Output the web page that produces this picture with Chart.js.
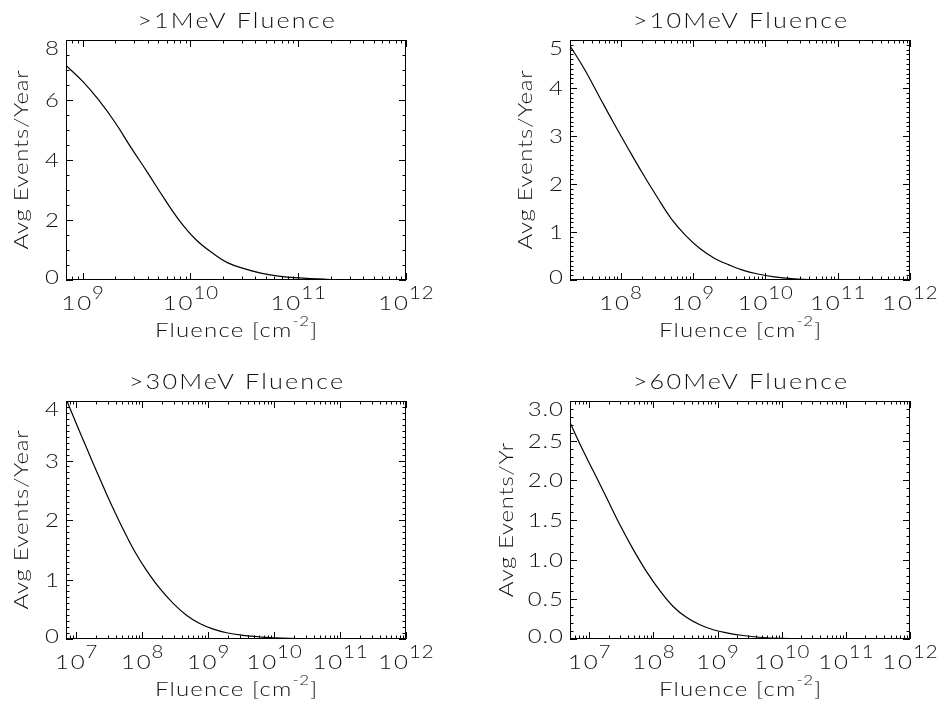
<!DOCTYPE html>
<html>
<head>
<meta charset="utf-8">
<script src="https://cdn.jsdelivr.net/npm/chart.js@4"></script>
<style>
html, body { margin: 0; padding: 0; background: #fff; }
#wrap { position: relative; width: 938px; height: 704px; }
canvas { position: absolute; }
</style>
</head>
<body>
<div id="wrap">
  <canvas id="p1" width="469" height="352" style="left:0;top:0"></canvas>
  <canvas id="p2" width="469" height="352" style="left:469px;top:0"></canvas>
  <canvas id="p3" width="469" height="352" style="left:0;top:352px"></canvas>
  <canvas id="p4" width="469" height="352" style="left:469px;top:352px"></canvas>
</div>
<script>
// values (fluence in cm^-2, avg events per year)
const fluenceGt1 = [7.0e8, 1.0e9, 1.4e9, 2.0e9, 2.8e9, 4.0e9, 5.6e9, 7.9e9, 1.12e10, 1.6e10, 2.2e10, 3.2e10, 4.5e10, 6.3e10, 1.0e11, 1.8e11, 3.2e11, 1.0e12];
const eventsGt1  = [7.15, 6.62, 6.01, 5.25, 4.42, 3.58, 2.76, 1.98, 1.35, 0.90, 0.58, 0.37, 0.23, 0.14, 0.07, 0.025, 0.005, 0.0];

const fluenceGt10 = [2.0e7, 3.2e7, 5.0e7, 7.9e7, 1.26e8, 2.0e8, 3.2e8, 5.0e8, 7.9e8, 1.26e9, 2.0e9, 3.2e9, 5.0e9, 7.9e9, 1.26e10, 2.5e10, 5.0e10, 1.0e11, 1.0e12];
const eventsGt10  = [4.88, 4.38, 3.84, 3.29, 2.75, 2.23, 1.73, 1.28, 0.93, 0.65, 0.45, 0.31, 0.20, 0.125, 0.07, 0.025, 0.005, 0.0, 0.0];

const fluenceGt30 = [7.0e6, 1.02e7, 1.45e7, 2.05e7, 2.9e7, 4.1e7, 5.8e7, 8.2e7, 1.17e8, 1.85e8, 2.95e8, 4.7e8, 7.45e8, 1.17e9, 1.9e9, 3.35e9, 5.85e9, 1.0e10, 3.2e10, 1.0e11, 1.0e12];
const eventsGt30  = [4.04, 3.60, 3.20, 2.81, 2.43, 2.07, 1.73, 1.42, 1.15, 0.85, 0.60, 0.40, 0.26, 0.17, 0.105, 0.062, 0.038, 0.02, 0.005, 0.0, 0.0];

const fluenceGt60 = [5.0e6, 7.1e6, 1.15e7, 1.86e7, 3.0e7, 4.83e7, 7.8e7, 1.26e8, 2.03e8, 3.3e8, 5.3e8, 8.6e8, 1.38e9, 2.5e9, 4.5e9, 1.0e10, 3.2e10, 1.0e12];
const eventsGt60  = [2.73, 2.46, 2.12, 1.78, 1.44, 1.13, 0.85, 0.61, 0.41, 0.27, 0.18, 0.117, 0.078, 0.044, 0.022, 0.008, 0.0, 0.0];

const titles  = ['>1MeV Fluence', '>10MeV Fluence', '>30MeV Fluence', '>60MeV Fluence'];
const yTitles = ['Avg Events/Year', 'Avg Events/Year', 'Avg Events/Year', 'Avg Events/Yr'];
const xTitle  = 'Fluence [cm';
const xTitleExp = '-2';

// axis ranges and tick steps
const xMins    = [7e8, 2e7, 7e6, 5e6];
const xMax     = 1e12;
const yMaxes   = [8, 5, 4, 3];
const yMajor   = [2, 1, 1, 0.5];
const yMinor   = [0.5, 0.1, 0.1, 0.1];
const yDigits  = [0, 0, 0, 1];

const INK = '#000';
const TEXT = '#111';
const FONT = 'Lato, "DejaVu Sans", sans-serif';
const STRETCH = 1.2;   // IDL vector font is wider than Lato

function setFont(ctx, size, spacing) {
  ctx.font = `300 ${size}px ${FONT}`;
  ctx.letterSpacing = spacing + 'px';
}
function runWidth(ctx, r) {
  setFont(ctx, r.size, r.spacing || 0);
  return (ctx.measureText(r.t).width - (r.spacing || 0)) * STRETCH;
}
// draw a list of text runs (for superscripts) on a common baseline
function drawRuns(ctx, runs, x, baseline, align) {
  const gap = 1;
  const ws = runs.map(r => runWidth(ctx, r));
  const total = ws.reduce((a, b) => a + b, 0) + gap * (runs.length - 1);
  let cx = align === 'center' ? x - total / 2 : align === 'right' ? x - total : x;
  ctx.textAlign = 'left';
  ctx.textBaseline = 'alphabetic';
  ctx.fillStyle = TEXT;
  runs.forEach((r, i) => {
    ctx.save();
    setFont(ctx, r.size, r.spacing || 0);
    ctx.translate(cx, baseline - (r.rise || 0));
    ctx.scale(STRETCH, 1);
    ctx.fillText(r.t, 0, 0);
    ctx.restore();
    cx += ws[i] + gap;
  });
}

// IDL style frame: closed box, inward ticks on all four sides, 10^n labels
const idlAxes = {
  id: 'idlAxes',
  afterDraw(chart, args, o) {
    const {ctx, chartArea: a} = chart;
    const x = chart.scales.x, y = chart.scales.y;
    ctx.save();
    ctx.strokeStyle = INK;
    ctx.lineWidth = 1;
    ctx.beginPath();
    ctx.rect(a.left + 0.5, a.top + 0.5, a.width - 1, a.height - 1);

    const d0 = Math.floor(Math.log10(x.min)), d1 = Math.round(Math.log10(x.max));
    for (let d = d0; d <= d1; d++) {
      for (let m = 1; m < 10; m++) {
        const v = m * Math.pow(10, d);
        if (v < x.min || v > x.max * 1.0001) continue;
        const px = Math.round(x.getPixelForValue(v)) + 0.5;
        const len = m === 1 ? 7 : 3.5;
        ctx.moveTo(px, a.bottom); ctx.lineTo(px, a.bottom - len);
        ctx.moveTo(px, a.top); ctx.lineTo(px, a.top + len);
      }
    }
    const n = Math.round(y.max / o.minor);
    const per = Math.round(o.major / o.minor);
    for (let i = 0; i <= n; i++) {
      const py = Math.round(y.getPixelForValue(i * o.minor)) + 0.5;
      const len = i % per === 0 ? 7 : 3.5;
      ctx.moveTo(a.left, py); ctx.lineTo(a.left + len, py);
      ctx.moveTo(a.right, py); ctx.lineTo(a.right - len, py);
    }
    ctx.stroke();

    // y tick labels
    const nMaj = Math.round(y.max / o.major);
    for (let i = 0; i <= nMaj; i++) {
      const v = i * o.major;
      const cy = Math.min(Math.max(y.getPixelForValue(v), a.top + 8), a.bottom - 3);
      drawRuns(ctx, [{t: v.toFixed(o.digits), size: 20, spacing: 0.8}], a.left - 7, cy + 7, 'right');
    }
    // x tick labels 10^n
    for (let d = Math.ceil(Math.log10(x.min)); d <= d1; d++) {
      const px = x.getPixelForValue(Math.pow(10, d));
      drawRuns(ctx, [{t: '10', size: 20, spacing: 1.5}, {t: String(d), size: 17, spacing: 0.8, rise: 11}], px, a.bottom + 30, 'center');
    }
    const cx = (a.left + a.right) / 2;
    // panel title
    drawRuns(ctx, [{t: o.title, size: 21, spacing: 1.8}], cx, a.top - 12, 'center');
    // x title
    drawRuns(ctx, [{t: xTitle, size: 20, spacing: 1}, {t: xTitleExp, size: 14, spacing: 0.5, rise: 11}, {t: ']', size: 20}], cx, a.bottom + 57, 'center');
    // y title
    ctx.save();
    ctx.translate(a.left - o.yTitleGap, (a.top + a.bottom) / 2);
    ctx.rotate(-Math.PI / 2);
    drawRuns(ctx, [{t: o.yTitle, size: 20, spacing: 0.6}], 0, 0, 'center');
    ctx.restore();
    ctx.restore();
  }
};

function makePanel(id, k, fluence, events, pad, yTitleGap) {
  return new Chart(document.getElementById(id), {
    type: 'line',
    data: {
      datasets: [{
        data: fluence.map((f, i) => ({x: f, y: events[i]})),
        borderColor: INK,
        borderWidth: 1.2,
        pointRadius: 0,
        tension: 0.4,
        fill: false
      }]
    },
    options: {
      responsive: false,
      animation: false,
      events: [],
      layout: { padding: pad },
      plugins: {
        legend: { display: false },
        tooltip: { enabled: false },
        idlAxes: { title: titles[k], yTitle: yTitles[k], major: yMajor[k], minor: yMinor[k], digits: yDigits[k], yTitleGap }
      },
      scales: {
        x: { type: 'logarithmic', min: xMins[k], max: xMax, display: false },
        y: { type: 'linear', min: 0, max: yMaxes[k], display: false }
      }
    },
    plugins: [idlAxes]
  });
}

makePanel('p1', 0, fluenceGt1, eventsGt1, {left: 66, right: 63, top: 40, bottom: 72}, 38);
makePanel('p2', 1, fluenceGt10, eventsGt10, {left: 101, right: 28, top: 40, bottom: 72}, 38);
makePanel('p3', 2, fluenceGt30, eventsGt30, {left: 66, right: 63, top: 49, bottom: 65}, 38);
makePanel('p4', 3, fluenceGt60, eventsGt60, {left: 101, right: 28, top: 49, bottom: 65}, 57);
</script>
</body>
</html>
